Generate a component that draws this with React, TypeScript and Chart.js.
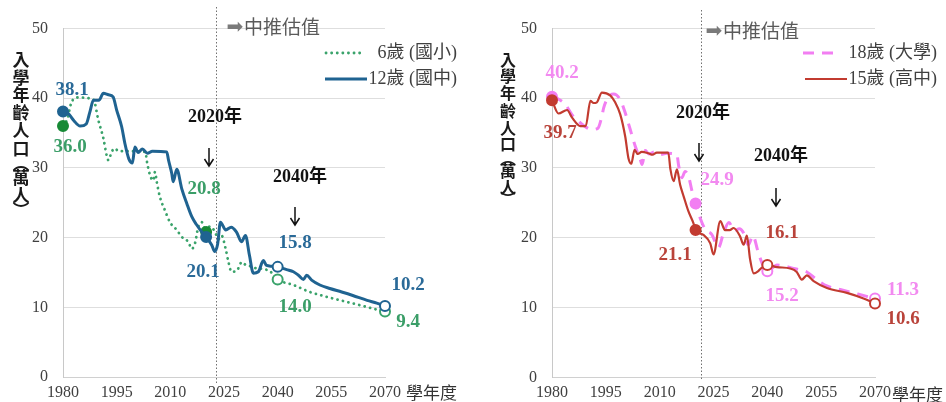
import React, { useEffect, useRef } from "react";
import { Chart, registerables } from "chart.js";

Chart.register(...registerables);

// ---------------- data ----------------
const X_MIN = 1980;
const X_MAX = 2070;
const X_STEP = 15;
const Y_MIN = 0;
const Y_MAX = 50;
const Y_STEP = 10;

// 6歲 (國小)
const age6Years = [1980, 1981.2, 1982.3, 1984, 1988.5, 1989.9, 1991.3, 1992.2, 1992.7, 1993.6, 1994.5, 1995.5, 1997, 2003, 2003.5, 2004.3, 2005.2, 2005.7, 2006.2, 2007.1, 2008.5, 2009.9, 2011.8, 2013.2, 2015, 2016, 2016.9, 2017.8, 2018.8, 2020, 2021, 2022.3, 2023.5, 2024.3, 2025.5, 2026.2, 2027.1, 2028.5, 2030, 2031, 2032.3, 2034, 2036, 2038, 2040, 2044.4, 2049, 2053.7, 2058.3, 2063, 2066.7, 2070];
const age6Values = [36.0, 37.0, 39.3, 40.1, 39.8, 36.8, 34.2, 31.8, 31.1, 32.3, 32.8, 32.4, 32.4, 32.3, 30.8, 29.0, 28.2, 29.4, 28.0, 25.8, 23.9, 22.2, 21.1, 20.1, 19.4, 18.4, 19.2, 21.5, 22.2, 20.8, 21.6, 21.0, 19.8, 20.3, 18.3, 16.6, 15.1, 15.2, 16.5, 16.1, 15.9, 15.6, 15.5, 15.1, 14.0, 13.2, 12.2, 11.5, 10.9, 10.3, 9.8, 9.4];

// 12歲 (國中)
const age12Years = [1980, 1981.5, 1983, 1984.8, 1986.5, 1987.5, 1988.5, 1990, 1991.3, 1992.7, 1994, 1995, 1996.4, 1997.3, 1998.4, 1999.4, 2000.1, 2001, 2002.2, 2003.6, 2005, 2009, 2009.5, 2010.4, 2010.8, 2011.8, 2013.2, 2014.6, 2016, 2017.4, 2018.8, 2020, 2021.6, 2022.4, 2023.2, 2024, 2025.5, 2027, 2028.5, 2029.9, 2031, 2032.1, 2033.2, 2034.6, 2036, 2036.9, 2038.3, 2040, 2042.5, 2044.4, 2045.8, 2047.2, 2048.1, 2049.5, 2051.8, 2054.6, 2057.9, 2061, 2065, 2067.7, 2070];
const age12Values = [38.1, 37.8, 36.8, 36.0, 36.3, 38.0, 39.7, 39.7, 40.7, 40.5, 40.2, 38.3, 35.9, 33.5, 31.3, 30.7, 33.0, 32.2, 32.7, 32.1, 32.4, 32.3, 31.1, 29.2, 28.0, 29.8, 27.0, 24.9, 23.0, 21.8, 20.8, 20.1, 18.9, 18.0, 19.0, 22.2, 21.1, 21.5, 20.8, 19.4, 20.3, 17.5, 14.9, 15.1, 16.7, 16.0, 15.9, 15.8, 15.4, 15.1, 14.6, 14.0, 14.6, 13.9, 13.2, 12.7, 12.2, 11.7, 11.0, 10.6, 10.2];

// 15歲 (高中)
const age15Years = [1980, 1981.8, 1984.2, 1985.6, 1987.9, 1989.4, 1990.7, 1991.6, 1992.5, 1993.9, 1996.2, 1997.6, 1999, 2000.4, 2001.3, 2002.1, 2003, 2003.9, 2005, 2006.9, 2008, 2009.2, 2012.4, 2013, 2013.9, 2014.8, 2015.7, 2016.7, 2018, 2019.4, 2020, 2022.2, 2024.1, 2025, 2026.9, 2028.2, 2029.5, 2030.6, 2032.4, 2033.4, 2034.3, 2035.2, 2036.2, 2037.4, 2038.4, 2040, 2042.7, 2046.4, 2048.2, 2049.6, 2051, 2052.9, 2056.6, 2062.2, 2066.8, 2070];
const age15Values = [39.7, 37.8, 38.3, 37.2, 36.0, 36.0, 39.6, 39.3, 39.4, 40.8, 40.4, 39.4, 37.7, 34.5, 31.4, 30.6, 32.6, 32.0, 32.3, 32.1, 31.9, 32.2, 32.2, 29.8, 28.1, 29.8, 27.6, 25.9, 23.8, 22.1, 21.1, 20.4, 19.2, 17.6, 22.4, 21.1, 21.1, 21.4, 20.2, 19.0, 20.3, 16.9, 14.9, 15.2, 15.7, 16.1, 15.8, 15.6, 15.1, 14.0, 14.6, 13.8, 12.8, 12.1, 11.3, 10.6];

// 18歲 (大學)
const age18Years = [1980, 1982, 1983.7, 1985.6, 1987.4, 1989, 1991.1, 1992.8, 1993.9, 1994.4, 1995.8, 1997.2, 1999, 2000.4, 2001.8, 2003.2, 2004.6, 2005.1, 2006, 2007, 2008.5, 2010, 2012, 2014.8, 2015.3, 2016.2, 2017.1, 2018.1, 2019, 2020, 2021.3, 2022.7, 2024.5, 2026.4, 2027.8, 2029.3, 2030.8, 2032.2, 2033.5, 2034.7, 2036, 2037.3, 2038.5, 2040, 2042.7, 2047.3, 2051, 2053.8, 2056.6, 2060.3, 2064, 2067.7, 2070];
const age18Values = [40.2, 39.8, 39.1, 37.6, 36.7, 36.0, 35.5, 35.7, 37.4, 38.6, 40.2, 40.6, 39.8, 37.9, 35.5, 33.1, 31.2, 30.5, 32.5, 32.0, 32.3, 31.9, 32.1, 31.9, 30.3, 28.6, 29.5, 28.7, 26.7, 24.9, 22.8, 21.2, 20.5, 18.6, 20.7, 22.2, 21.0, 21.3, 20.6, 19.0, 20.3, 18.2, 16.4, 15.2, 16.1, 15.6, 15.1, 14.0, 13.1, 12.6, 12.1, 11.6, 11.3];

const markerYears = [1980, 2020, 2040, 2070];
const filledMarkerYears = [1980, 2020];

const leftValueLabels = ["38.1", "36.0", "20.8", "20.1", "15.8", "14.0", "10.2", "9.4"];
const rightValueLabels = ["40.2", "39.7", "24.9", "21.1", "16.1", "15.2", "11.3", "10.6"];

const legendLeft = ["6歲 (國小)", "12歲 (國中)"];
const legendRight = ["18歲 (大學)", "15歲 (高中)"];
const yTitleChars = ["入", "學", "年", "齡", "人", "口", "︵", "萬", "人", "︶"];
const xTitle = "學年度";
const projText = "中推估值";
const note2020 = "2020年";
const note2040 = "2040年";

// ---------------- styles ----------------
const BLUE = "#1f6391";
const BLUE_TXT = "#2a6a98";
const GREEN = "#3aa36b";
const GREEN_DARK = "#178a36";
const GREEN_TXT = "#3b9e68";
const RED = "#c23b30";
const RED_TXT = "#b9433a";
const PINK = "#f27ef2";
const PINK_TXT = "#f28af0";

const SERIF = "'Liberation Serif', 'Times New Roman', serif";
const CJK = "'Noto Sans CJK TC', 'Noto Sans CJK SC', sans-serif";
const MIXED = "'Liberation Serif', 'Noto Sans CJK TC', serif";

const W = 473;
const H = 402;

type Lbl = { text: string; x: number; y: number; color: string };

interface Panel {
  left: number;
  areaLeft: number;
  areaRight: number;
  areaTop: number;
  areaBottom: number;
  cutoffYear: number;
  cutoffTop: number;
  cutoffBottom: number;
  projArrowX: number;
  projTextX: number;
  projY: number;
  yTitleX: number;
  yTitleYs: number[];
  yTitleSize: number;
  xTitleX: number;
  xTitleY: number;
  legend: { text: string; color: string; width: number; dash: number[]; cap: CanvasLineCap; x1: number; x2: number; y: number; textRight: number }[];
  notes: { text: string; x: number; y: number }[];
  arrows: { x: number; y: number }[];
  labels: Lbl[];
  datasets: any[];
}

function pts(years: number[], values: number[]) {
  return years.map((x, i) => ({ x, y: values[i] }));
}

function lineDataset(label: string, years: number[], values: number[], color: string, width: number, dash: number[], cap: CanvasLineCap, filledColor: string, radius: number) {
  return {
    label,
    data: pts(years, values),
    clip: false,
    borderColor: color,
    borderWidth: width,
    borderDash: dash,
    borderCapStyle: cap,
    borderJoinStyle: "round",
    cubicInterpolationMode: "monotone",
    pointRadius: (c: any) => (c.raw && markerYears.includes(c.raw.x) ? radius : 0),
    pointHoverRadius: 0,
    pointBackgroundColor: (c: any) => (c.raw && filledMarkerYears.includes(c.raw.x) ? filledColor : "#ffffff"),
    pointBorderColor: (c: any) => (c.raw && filledMarkerYears.includes(c.raw.x) ? filledColor : color),
    pointBorderWidth: 2,
  };
}

const leftPanel: Panel = {
  left: 0,
  areaLeft: 63,
  areaRight: 385,
  areaTop: 28.5,
  areaBottom: 377,
  cutoffYear: 2022.8,
  cutoffTop: 7,
  cutoffBottom: 383,
  projArrowX: 235,
  projTextX: 244,
  projY: 27,
  yTitleX: 21,
  yTitleYs: [60, 78, 95, 113, 131, 149, 164, 178, 196, 210],
  yTitleSize: 17,
  xTitleX: 406,
  xTitleY: 393,
  legend: [
    { text: legendLeft[0], color: GREEN, width: 2.8, dash: [0.1, 5.5], cap: "round", x1: 326, x2: 363, y: 53, textRight: 457 },
    { text: legendLeft[1], color: BLUE, width: 3, dash: [], cap: "butt", x1: 325, x2: 367, y: 79, textRight: 457 },
  ],
  notes: [
    { text: note2020, x: 215, y: 117 },
    { text: note2040, x: 300, y: 177 },
  ],
  arrows: [
    { x: 209, y: 157 },
    { x: 295, y: 216 },
  ],
  labels: [
    { text: leftValueLabels[0], x: 72, y: 90, color: BLUE_TXT },
    { text: leftValueLabels[1], x: 70, y: 147, color: GREEN_TXT },
    { text: leftValueLabels[2], x: 204, y: 189, color: GREEN_TXT },
    { text: leftValueLabels[3], x: 203, y: 272, color: BLUE_TXT },
    { text: leftValueLabels[4], x: 295, y: 243, color: BLUE_TXT },
    { text: leftValueLabels[5], x: 295, y: 307, color: GREEN_TXT },
    { text: leftValueLabels[6], x: 408, y: 285, color: BLUE_TXT },
    { text: leftValueLabels[7], x: 408, y: 322, color: GREEN_TXT },
  ],
  datasets: [
    lineDataset(legendLeft[1], age12Years, age12Values, BLUE, 3, [], "round", BLUE, 5),
    lineDataset(legendLeft[0], age6Years, age6Values, GREEN, 2.8, [0.1, 5.5], "round", GREEN_DARK, 5),
  ],
};

const rightPanel: Panel = {
  left: 473,
  areaLeft: 79,
  areaRight: 402,
  areaTop: 28.3,
  areaBottom: 378,
  cutoffYear: 2021.4,
  cutoffTop: 10,
  cutoffBottom: 380,
  projArrowX: 241,
  projTextX: 250,
  projY: 31,
  yTitleX: 35,
  yTitleYs: [60, 76, 93, 111, 128, 144, 158, 171, 187, 199],
  yTitleSize: 16,
  xTitleX: 419,
  xTitleY: 395,
  legend: [
    { text: legendRight[0], color: PINK, width: 3, dash: [11, 8], cap: "butt", x1: 330, x2: 364, y: 53, textRight: 464 },
    { text: legendRight[1], color: RED, width: 2, dash: [], cap: "butt", x1: 332, x2: 374, y: 79, textRight: 464 },
  ],
  notes: [
    { text: note2020, x: 230, y: 113 },
    { text: note2040, x: 308, y: 156 },
  ],
  arrows: [
    { x: 226, y: 152 },
    { x: 303, y: 197 },
  ],
  labels: [
    { text: rightValueLabels[0], x: 89, y: 73, color: PINK_TXT },
    { text: rightValueLabels[1], x: 87, y: 133, color: RED_TXT },
    { text: rightValueLabels[2], x: 244, y: 180, color: PINK_TXT },
    { text: rightValueLabels[3], x: 202, y: 255, color: RED_TXT },
    { text: rightValueLabels[4], x: 309, y: 233, color: RED_TXT },
    { text: rightValueLabels[5], x: 309, y: 296, color: PINK_TXT },
    { text: rightValueLabels[6], x: 430, y: 290, color: PINK_TXT },
    { text: rightValueLabels[7], x: 430, y: 319, color: RED_TXT },
  ],
  datasets: [
    lineDataset(legendRight[1], age15Years, age15Values, RED, 2.2, [], "round", RED, 5),
    lineDataset(legendRight[0], age18Years, age18Values, PINK, 3, [11, 8], "butt", PINK, 5),
  ],
};

function text(ctx: CanvasRenderingContext2D, s: string, x: number, y: number, font: string, color: string, align: CanvasTextAlign = "center") {
  ctx.font = font;
  ctx.fillStyle = color;
  ctx.textAlign = align;
  ctx.textBaseline = "middle";
  ctx.fillText(s, x, y);
}

function makeOverlay(p: Panel) {
  return {
    id: "overlay",
    beforeDatasetsDraw(chart: any) {
      const ctx: CanvasRenderingContext2D = chart.ctx;
      const xs = chart.scales.x;
      const cx = Math.round(xs.getPixelForValue(p.cutoffYear)) + 0.5;
      ctx.save();
      ctx.strokeStyle = "#707070";
      ctx.lineWidth = 1;
      ctx.setLineDash([1.5, 2]);
      ctx.beginPath();
      ctx.moveTo(cx, p.cutoffTop);
      ctx.lineTo(cx, p.cutoffBottom);
      ctx.stroke();
      ctx.restore();
    },
    afterDraw(chart: any) {
      const ctx: CanvasRenderingContext2D = chart.ctx;
      ctx.save();
      // projection note
      text(ctx, "➡", p.projArrowX, p.projY + 1, `20px 'DejaVu Sans', sans-serif`, "#7a7a7a");
      text(ctx, projText, p.projTextX, p.projY, `19px ${CJK}`, "#5a5a5a", "left");
      // y title (vertical, one character per row)
      yTitleChars.forEach((ch, i) => {
        text(ctx, ch, p.yTitleX, p.yTitleYs[i], `bold ${p.yTitleSize}px ${CJK}`, "#1a1a1a");
      });
      // x title
      text(ctx, xTitle, p.xTitleX, p.xTitleY, `17px ${CJK}`, "#333333", "left");
      // legend
      p.legend.forEach((l) => {
        ctx.save();
        ctx.strokeStyle = l.color;
        ctx.lineWidth = l.width;
        ctx.setLineDash(l.dash);
        ctx.lineCap = l.cap;
        ctx.beginPath();
        ctx.moveTo(l.x1, l.y);
        ctx.lineTo(l.x2, l.y);
        ctx.stroke();
        ctx.restore();
        text(ctx, l.text, l.textRight, l.y, `18px ${MIXED}`, "#404040", "right");
      });
      // notes and arrows
      p.notes.forEach((n) => text(ctx, n.text, n.x, n.y, `bold 18px ${MIXED}`, "#111111"));
      p.arrows.forEach((a) => {
        ctx.save();
        ctx.strokeStyle = "#111111";
        ctx.lineWidth = 1.5;
        ctx.beginPath();
        ctx.moveTo(a.x, a.y - 9);
        ctx.lineTo(a.x, a.y + 8);
        ctx.moveTo(a.x - 4.5, a.y + 2);
        ctx.lineTo(a.x, a.y + 9);
        ctx.lineTo(a.x + 4.5, a.y + 2);
        ctx.stroke();
        ctx.restore();
      });
      // value labels
      p.labels.forEach((l) => text(ctx, l.text, l.x, l.y, `bold 19px ${SERIF}`, l.color));
      ctx.restore();
    },
  };
}

function buildConfig(p: Panel): any {
  return {
    type: "line",
    data: { datasets: p.datasets },
    options: {
      responsive: false,
      animation: false,
      devicePixelRatio: 1,
      layout: {
        padding: { left: 0, top: p.areaTop, right: W - p.areaRight, bottom: 0 },
      },
      plugins: {
        legend: { display: false },
        tooltip: { enabled: false },
        title: { display: false },
      },
      scales: {
        x: {
          type: "linear",
          min: X_MIN,
          max: X_MAX,
          ticks: {
            stepSize: X_STEP,
            padding: 6,
            maxRotation: 0,
            autoSkip: false,
            color: "#404040",
            font: { family: SERIF, size: 16 },
            callback: (v: number) => String(v),
          },
          grid: { display: false, drawTicks: false },
          border: { display: true, color: "#d0d0d0", width: 1 },
          afterFit: (s: any) => {
            s.height = H - p.areaBottom;
          },
        },
        y: {
          type: "linear",
          min: Y_MIN,
          max: Y_MAX,
          ticks: {
            stepSize: Y_STEP,
            padding: 15,
            color: "#404040",
            font: { family: SERIF, size: 16 },
            callback: (v: number) => String(v),
          },
          grid: { color: "#dedede", lineWidth: 1, drawTicks: false },
          border: { display: true, color: "#c8c8c8", width: 1 },
          afterFit: (s: any) => {
            s.width = p.areaLeft;
          },
        },
      },
    },
    plugins: [makeOverlay(p)],
  };
}

export default function App() {
  const leftRef = useRef<HTMLCanvasElement | null>(null);
  const rightRef = useRef<HTMLCanvasElement | null>(null);

  useEffect(() => {
    const charts: Chart[] = [];
    if (leftRef.current) charts.push(new Chart(leftRef.current, buildConfig(leftPanel)));
    if (rightRef.current) charts.push(new Chart(rightRef.current, buildConfig(rightPanel)));
    return () => charts.forEach((c) => c.destroy());
  }, []);

  return (
    <div style={{ position: "fixed", left: 0, top: 0, width: 946, height: 402, background: "#ffffff" }}>
      <canvas ref={leftRef} width={W} height={H} style={{ position: "absolute", left: leftPanel.left, top: 0, width: W, height: H }} />
      <canvas ref={rightRef} width={W} height={H} style={{ position: "absolute", left: rightPanel.left, top: 0, width: W, height: H }} />
    </div>
  );
}
